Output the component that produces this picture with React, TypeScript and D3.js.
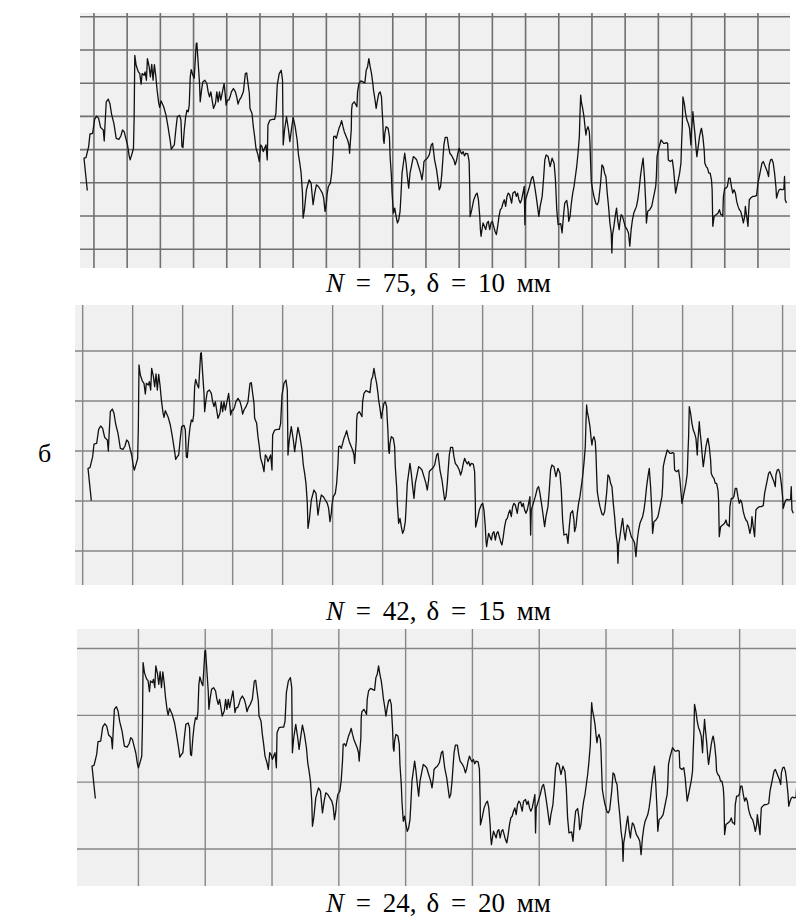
import React from "react";
import * as d3 from "d3";

// Surface profile trace: position along the surface (mm) and height (mm)
const profileX = [
  1.0, 0.0, 0.6, 1.4, 1.8, 2.6, 3.2, 3.8, 4.4, 5.0, 5.8, 6.1, 6.3, 6.7, 7.3, 7.8, 8.3, 9.0, 9.7, 10.5,
  11.1, 11.6, 12.1, 12.6, 13.1, 13.6, 13.9, 14.5, 14.9, 15.1, 15.3, 15.7, 16.3, 16.8, 17.2, 17.5, 18.1, 18.4, 18.8, 19.1,
  19.6, 20.0, 20.4, 20.8, 21.2, 21.6, 22.0, 22.5, 22.8, 23.2, 24.0, 24.7, 25.3, 26.0, 26.3, 26.8, 27.2, 27.7, 28.1, 28.8,
  29.2, 29.5, 29.8, 30.2, 30.6, 31.0, 31.4, 31.7, 32.0, 32.3, 32.8, 33.2, 33.8, 34.0, 34.4, 34.8, 35.0, 35.4, 35.8, 36.4,
  37.0, 37.4, 37.8, 38.2, 38.6, 39.0, 39.6, 40.0, 40.4, 40.8, 41.2, 41.8, 42.2, 42.6, 42.8, 43.2, 43.6, 44.0, 44.4, 45.0,
  45.6, 46.0, 46.4, 46.8, 47.4, 48.0, 48.6, 49.0, 49.4, 49.8, 50.0, 50.6, 51.0, 51.4, 51.8, 52.4, 52.8, 53.2, 53.6, 54.0,
  54.4, 54.8, 55.2, 55.4, 56.0, 56.8, 57.4, 57.8, 58.2, 58.8, 59.4, 59.8, 60.0, 60.4, 61.0, 61.6, 62.0, 62.6, 63.0, 63.6,
  64.2, 64.6, 65.0, 65.4, 65.8, 66.0, 66.4, 67.0, 67.8, 68.4, 69.0, 69.5, 70.0, 70.6, 71.2, 71.8, 72.2, 72.6, 73.0, 73.2,
  73.6, 74.2, 74.6, 74.8, 75.0, 75.2, 75.6, 76.0, 76.4, 76.8, 77.2, 77.6, 78.0, 78.4, 79.0, 79.4, 79.8, 80.0, 80.2, 80.5,
  80.6, 80.8, 81.4, 81.8, 82.2, 82.4, 82.8, 83.4, 84.0, 84.6, 85.0, 85.4, 85.8, 86.2, 86.6, 87.0, 87.2, 87.6, 88.0, 88.4,
  88.8, 89.2, 89.6, 89.8, 90.0, 90.2, 90.4, 90.6, 91.0, 91.6, 92.0, 92.2, 92.6, 92.8, 93.0, 93.2, 93.6, 94.0, 94.4, 94.8,
  95.2, 95.4, 95.6, 95.8, 96.2, 96.6, 97.0, 97.4, 97.8, 98.2, 98.6, 99.2, 99.8, 100.2, 100.8, 101.4, 101.8, 102.2, 102.4, 102.8,
  103.4, 104.0, 104.6, 105.0, 105.6, 106.2, 106.6, 107.0, 107.4, 107.8, 108.0, 108.4, 108.8, 109.4, 109.8, 110.2, 110.8, 111.4, 111.8, 112.2,
  112.6, 113.0, 113.4, 113.8, 114.2, 114.6, 115.0, 115.6, 116.0, 116.2, 116.3, 116.8, 117.4, 118.0, 118.4, 118.8, 119.2, 119.4, 119.6, 119.8,
  120.2, 120.6, 121.0, 121.4, 121.8, 122.2, 122.6, 123.0, 123.4, 123.8, 124.2, 124.6, 125.0, 125.4, 125.8, 126.2, 126.6, 127.0, 127.4, 127.8,
  128.2, 128.8, 129.2, 129.8, 130.2, 130.6, 131.0, 131.4, 131.8, 132.2, 132.6, 132.8, 133.0, 134.2, 134.8, 135.2, 135.6, 136.2, 137.0, 137.4,
  138.0, 138.4, 138.8, 139.2, 139.8, 140.4, 141.0, 141.6, 142.0, 142.4, 142.8, 143.6, 144.0, 144.4, 144.8, 145.4, 145.8, 146.0, 146.4, 146.8,
  147.2, 147.6, 148.0, 148.4, 148.8, 149.2, 149.4, 149.6, 149.8, 150.2, 150.6, 151.0, 151.2, 151.4, 151.8, 152.2, 152.4, 152.6, 152.8, 153.2,
  153.6, 154.2, 154.6, 155.0, 155.6, 156.0, 156.4, 156.8, 157.2, 157.6, 158.0, 158.4, 158.8, 159.0, 159.2, 159.6, 160.0, 160.4, 160.8, 161.2,
  161.4, 161.8, 162.2, 162.6, 163.0, 163.6, 164.0, 164.4, 164.8, 165.2, 165.6, 166.0, 166.4, 166.8, 167.2, 167.6, 168.0, 168.4, 168.8, 169.2,
  169.4, 169.8, 170.4, 171.0, 171.4, 171.8, 172.2, 172.4, 172.6, 173.0, 173.4, 173.8, 174.2, 174.6, 175.0, 175.4, 175.8, 176.0, 176.6, 177.2,
  177.6, 178.2, 178.6, 179.0, 179.4, 179.8, 180.0, 180.2, 180.4, 180.8, 181.2, 181.6, 182.0, 182.4, 182.8, 183.0, 183.2, 183.4, 183.6, 184.0,
  184.4, 184.6, 185.0, 185.4, 185.8, 186.0, 186.4, 186.8, 187.0, 187.4, 187.8, 188.2, 188.6, 189.0, 189.2, 189.4, 189.8, 190.4, 191.0, 191.4,
  191.8, 192.2, 192.4, 192.6, 193.0, 193.4, 193.8, 194.2, 194.6, 195.0, 195.4, 195.8, 196.2, 196.6, 197.0, 197.4, 197.8, 198.2, 198.6, 199.0,
  199.2, 199.6, 200.0, 200.2, 200.4, 200.8, 201.4, 202.0, 202.6, 203.0, 203.4, 203.8, 204.2, 204.6, 205.0, 205.4, 205.8, 206.2, 206.4, 206.8,
  207.2, 207.6, 208.0, 208.4, 208.6, 209.0, 209.4, 209.8, 210.2, 210.8, 211.0, 211.2, 211.6,
];

const profileY = [
  20.8, 30.5, 30.7, 34.0, 37.8, 38.0, 42.2, 43.2, 42.5, 39.8, 39.0, 35.7, 40.0, 47.5, 48.3, 47.0, 43.8, 41.0, 36.5, 36.2,
  37.2, 39.0, 38.5, 36.5, 34.5, 31.2, 30.0, 32.0, 33.5, 42.5, 61.5, 58.5, 56.7, 56.0, 52.8, 56.0, 55.5, 56.5, 54.0, 60.5,
  58.2, 55.0, 58.8, 54.0, 58.7, 55.5, 51.2, 47.2, 45.8, 47.8, 46.0, 43.5, 40.0, 35.5, 33.2, 34.0, 34.5, 39.5, 43.0, 43.4,
  42.0, 34.0, 33.7, 39.0, 42.8, 45.0, 44.5, 46.5, 55.0, 57.2, 55.5, 54.6, 65.0, 65.2, 59.0, 53.0, 47.5, 51.0, 53.5, 54.0,
  53.0, 50.5, 49.0, 50.5, 48.0, 45.5, 47.0, 50.5, 47.5, 50.5, 48.0, 51.0, 53.0, 49.0, 46.5, 48.0, 48.0, 49.0, 50.5, 51.5,
  50.5, 49.0, 46.8, 48.0, 49.0, 50.5, 56.0, 56.2, 53.0, 50.0, 45.5, 44.0, 40.0, 37.0, 33.5, 31.5, 29.5, 34.5, 34.0, 32.5,
  33.5, 34.5, 30.0, 40.5, 42.0, 42.2, 42.2, 44.0, 52.5, 56.0, 57.0, 54.0, 34.5, 39.0, 43.0, 39.0, 35.5, 40.0, 42.8, 40.0,
  36.0, 31.5, 29.0, 26.0, 20.0, 12.5, 15.0, 21.0, 24.0, 23.0, 16.5, 20.0, 22.5, 22.0, 21.0, 20.0, 18.5, 14.5, 17.0, 19.5,
  22.0, 23.0, 26.0, 29.0, 32.0, 37.0, 37.2, 36.5, 38.0, 39.5, 40.5, 41.8, 40.0, 38.5, 37.0, 36.0, 34.5, 32.0, 35.0, 39.0,
  45.0, 46.8, 47.5, 46.8, 46.0, 50.5, 53.0, 53.8, 53.5, 53.2, 57.0, 58.0, 60.5, 58.0, 56.0, 53.0, 51.0, 48.5, 45.5, 48.0,
  50.0, 50.5, 49.0, 45.0, 41.5, 36.0, 35.0, 38.0, 40.0, 39.5, 37.0, 31.0, 25.0, 20.0, 17.0, 14.0, 15.5, 13.0, 11.0, 12.0,
  14.5, 18.0, 22.0, 26.0, 29.0, 32.0, 29.0, 25.0, 21.5, 26.0, 28.0, 31.0, 30.5, 30.0, 28.0, 26.0, 24.0, 27.0, 29.5, 30.0,
  30.5, 31.5, 34.5, 35.0, 30.0, 27.0, 24.0, 21.0, 22.0, 26.0, 29.0, 34.5, 36.8, 36.8, 34.0, 32.0, 31.2, 30.0, 28.5, 29.8,
  32.0, 33.5, 32.5, 31.8, 32.5, 31.2, 32.0, 31.8, 29.5, 21.0, 12.9, 15.0, 18.0, 19.5, 20.0, 18.0, 13.0, 9.0, 7.0, 8.5,
  11.0, 10.0, 9.0, 11.0, 11.5, 9.0, 11.0, 11.5, 10.0, 8.5, 7.5, 10.0, 13.0, 15.0, 15.5, 17.0, 18.0, 16.0, 19.0, 20.0,
  19.5, 17.0, 20.0, 20.5, 19.0, 20.0, 18.0, 17.0, 18.0, 20.0, 22.0, 10.5, 18.0, 22.0, 24.5, 25.0, 23.0, 19.0, 13.0, 16.0,
  19.0, 24.0, 30.0, 31.5, 31.0, 28.0, 30.5, 29.0, 24.0, 15.0, 10.5, 10.8, 8.0, 13.0, 17.0, 17.8, 15.0, 11.5, 13.0, 17.0,
  20.0, 22.0, 25.0, 28.0, 32.0, 37.0, 44.0, 49.5, 47.5, 45.5, 43.0, 39.0, 37.5, 39.0, 40.0, 38.5, 35.0, 29.0, 23.5, 21.0,
  19.0, 16.8, 16.5, 17.5, 23.0, 28.5, 28.0, 26.0, 25.0, 20.0, 16.0, 11.0, 8.0, 2.0, 7.5, 10.0, 13.0, 15.5, 11.5, 9.0,
  11.0, 13.5, 13.0, 11.5, 10.0, 9.0, 8.0, 4.0, 9.0, 12.0, 14.0, 15.0, 16.0, 18.0, 21.0, 25.0, 28.0, 30.5, 25.0, 17.0,
  11.0, 14.5, 15.0, 16.0, 18.0, 20.0, 22.0, 25.0, 31.0, 33.0, 34.5, 36.0, 35.5, 35.0, 35.0, 35.2, 35.0, 30.0, 29.5, 30.0,
  27.0, 20.0, 22.0, 24.0, 26.0, 29.0, 35.0, 40.0, 49.0, 47.0, 44.0, 42.0, 41.0, 39.5, 34.5, 39.0, 41.5, 44.5, 42.0, 38.0,
  33.0, 31.0, 34.0, 37.0, 39.0, 39.5, 37.0, 33.0, 29.0, 28.0, 27.5, 26.0, 26.0, 24.0, 21.0, 10.0, 13.0, 13.5, 14.0, 15.0,
  13.5, 13.5, 13.0, 19.0, 21.5, 21.5, 22.0, 24.5, 24.5, 22.0, 20.0, 21.0, 20.0, 17.5, 16.0, 15.0, 14.5, 13.0, 11.0, 13.0,
  16.0, 13.0, 10.0, 14.5, 18.0, 18.5, 19.0, 19.0, 19.3, 23.0, 25.0, 27.0, 29.0, 29.5, 28.5, 27.5, 26.5, 25.0, 28.5, 30.0,
  30.2, 29.0, 26.0, 22.0, 18.5, 20.0, 21.0, 21.2, 21.0, 21.2, 25.0, 18.0, 17.0,
];

// Caption values for each record: number of grid cells N and grid step δ (mm)
const cellCounts = [75, 42, 24];
const gridSteps = [10, 15, 20];

// Page placement of each record strip
const strips = [
  { frame: [80, 13, 790, 268], origin: [84, 259.5], pxPerMm: 3.32, phase: [3.0, 3.1], captionY: 292, gridColor: "#6f6f6f", gridWidth: 1.6 },
  { frame: [75, 305, 796, 585], origin: [88, 570], pxPerMm: 3.333, phase: [-1.6, 5.7], captionY: 620, gridColor: "#868686", gridWidth: 1.4 },
  { frame: [77, 629, 796, 886], origin: [92, 868], pxPerMm: 3.34, phase: [13.9, 5.7], captionY: 912, gridColor: "#868686", gridWidth: 1.4 },
];

const FONT = "'Liberation Serif', 'Times New Roman', Times, serif";

function gridValues(min: number, max: number, phase: number, step: number): number[] {
  const start = phase - Math.ceil((phase - min) / step) * step;
  return d3.range(start, max + 1e-6, step).filter((v) => v >= min - 1e-6);
}

function Strip({ index }: { index: number }) {
  const s = strips[index];
  const step = gridSteps[index];
  const [x0, y0, x1, y1] = s.frame;
  const [ox, oy] = s.origin;
  const k = s.pxPerMm;

  const x = d3.scaleLinear().domain([0, 100]).range([ox, ox + 100 * k]);
  const y = d3.scaleLinear().domain([0, 100]).range([oy, oy - 100 * k]);

  const vLines = gridValues(x.invert(x0), x.invert(x1), s.phase[0], step);
  const hLines = gridValues(y.invert(y1), y.invert(y0), s.phase[1], step);

  const points = profileX.map((px, i) => [px, profileY[i]] as [number, number]);
  const line = d3
    .line<[number, number]>()
    .x((d) => x(d[0]))
    .y((d) => y(d[1]));

  const clipId = `strip-clip-${index}`;

  return (
    <g>
      <defs>
        <clipPath id={clipId}>
          <rect x={x0} y={y0} width={x1 - x0} height={y1 - y0} />
        </clipPath>
      </defs>
      <rect x={x0} y={y0} width={x1 - x0} height={y1 - y0} fill="#f0f0f0" />
      <g clipPath={`url(#${clipId})`}>
        {vLines.map((v, i) => (
          <line key={`v${i}`} x1={x(v)} x2={x(v)} y1={y0} y2={y1} stroke={s.gridColor} strokeWidth={s.gridWidth} />
        ))}
        {hLines.map((v, i) => (
          <line key={`h${i}`} x1={x0} x2={x1} y1={y(v)} y2={y(v)} stroke={s.gridColor} strokeWidth={s.gridWidth} />
        ))}
        <path d={line(points) ?? ""} fill="none" stroke="#111" strokeWidth={1.3} strokeLinejoin="round" />
      </g>
      <text x={326} y={s.captionY} fontFamily={FONT} fontSize={27} fill="#000" style={{ wordSpacing: "5px" }}>
        <tspan fontStyle="italic">N</tspan>
        {` = ${cellCounts[index]},`}
        <tspan dx={10}>{`δ = ${step} мм`}</tspan>
      </text>
    </g>
  );
}

export default function App() {
  return (
    <svg
      width={796}
      height={920}
      viewBox="0 0 796 920"
      style={{ position: "absolute", left: 0, top: 0, display: "block", background: "#fff" }}
    >
      <rect width={796} height={920} fill="#fff" />
      {strips.map((_, i) => (
        <Strip key={i} index={i} />
      ))}
      <text x={38} y={462} fontFamily={FONT} fontSize={26} fill="#000">
        б
      </text>
    </svg>
  );
}
